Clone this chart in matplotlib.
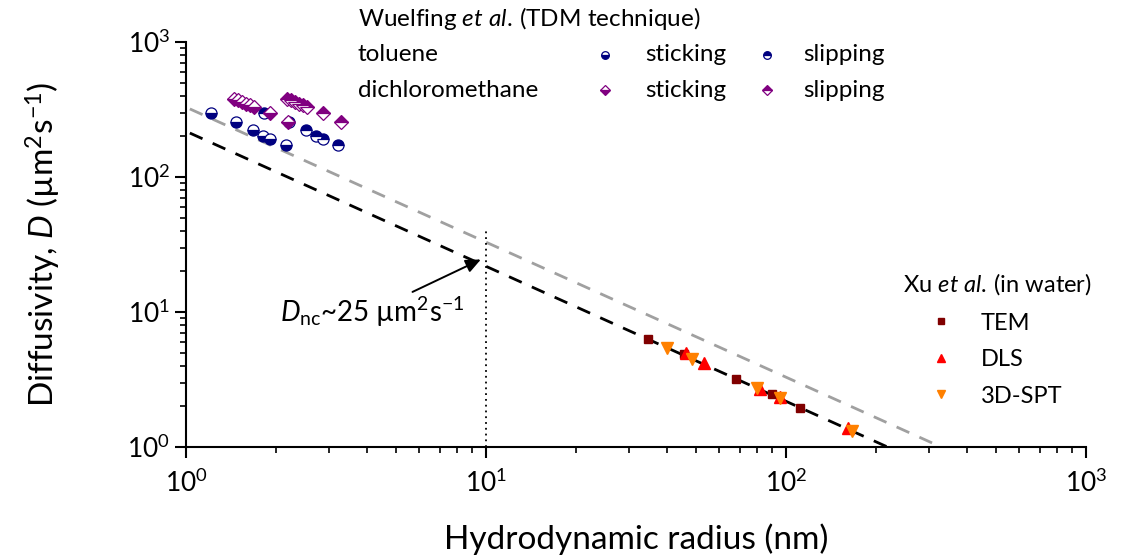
import matplotlib
matplotlib.use("Agg")
import matplotlib.pyplot as plt
import numpy as np

plt.rcParams['font.family'] = ['Lato', 'DejaVu Sans']
plt.rcParams['mathtext.fontset'] = 'custom'
plt.rcParams['mathtext.rm'] = 'Lato'
plt.rcParams['mathtext.it'] = 'Lato:italic'
plt.rcParams['mathtext.bf'] = 'Lato:bold'
plt.rcParams['mathtext.default'] = 'regular'

# ---- data ----
tol_stick_r = [1.21, 1.47, 1.67, 1.81, 1.90, 2.15]
tol_stick_D = [298, 255, 223, 201, 191, 173]
tol_slip_r = [1.82, 2.21, 2.51, 2.71, 2.86, 3.22]
tol_slip_D = [298, 255, 223, 201, 191, 173]

dcm_stick_r = [1.445, 1.49, 1.537, 1.585, 1.634, 1.686, 1.905, 2.19]
dcm_stick_D = [378, 369, 359, 350, 341, 330, 298, 255]
dcm_slip_r = [2.17, 2.24, 2.31, 2.38, 2.45, 2.53, 2.86, 3.28]
dcm_slip_D = [378, 369, 359, 350, 341, 330, 298, 255]

tem_r = [34.7, 45.7, 68.1, 89.6, 111.3]
tem_D = [6.31, 4.89, 3.19, 2.46, 1.95]
dls_r = [46.5, 53.3, 81.9, 95.5, 161.3]
dls_D = [4.95, 4.21, 2.68, 2.36, 1.38]
spt_r = [40.0, 48.5, 79.9, 95.5, 165.6]
spt_D = [5.38, 4.49, 2.72, 2.29, 1.31]

water_coef = 218.0     # D = coef / r  (Stokes-Einstein, water)
organic_coef = 329.0   # grey line
line_r = [1.03, 1000.0]
nc_r = 10.0
nc_D = 25.0
nc_top = 40.0

fig = plt.figure(figsize=(11.22, 5.6), dpi=100)
ax = fig.add_axes([186/1122, 1-447/560, 900/1122, 405/560])

ax.plot(line_r, [organic_coef/r for r in line_r], ls=(0, (5, 4)), color='#a0a0a0', lw=2, zorder=1)
ax.plot(line_r, [water_coef/r for r in line_r], ls=(0, (5, 4)), color='black', lw=2, zorder=1)
ax.plot([nc_r, nc_r], [1, nc_top], ls=(0, (1, 2.2)), color='black', lw=1.3, zorder=1)

navy = '#000080'
purple = '#800080'
ckw = dict(ls='none', marker='o', ms=8, mec=navy, mfc=navy, mfcalt='white', mew=0.9)
dkw = dict(ls='none', marker='D', ms=7.5, mec=purple, mfc=purple, mfcalt='white', mew=0.9)
ax.plot(tol_stick_r, tol_stick_D, fillstyle='bottom', **ckw)
ax.plot(tol_slip_r, tol_slip_D, fillstyle='top', **ckw)
ax.plot(dcm_stick_r, dcm_stick_D, fillstyle='bottom', **dkw)
ax.plot(dcm_slip_r, dcm_slip_D, fillstyle='top', **dkw)

h1, = ax.plot(tem_r, tem_D, ls='none', marker='s', ms=6, color='#800000', label='TEM')
h2, = ax.plot(dls_r, dls_D, ls='none', marker='^', ms=8, color='#ff0000', label='DLS')
h3, = ax.plot(spt_r, spt_D, ls='none', marker='v', ms=8, color='#ff8000', label='3D-SPT')

ax.set_xscale('log')
ax.set_yscale('log')
ax.set_xlim(1, 1000)
ax.set_ylim(1, 1000)
for s in ['top', 'right']:
    ax.spines[s].set_visible(False)
for s in ['left', 'bottom']:
    ax.spines[s].set_linewidth(1.5)
ax.tick_params(which='major', direction='out', length=8, width=1.5, labelsize=19)
ax.tick_params(which='minor', direction='out', length=4, width=1.2)
ax.tick_params(axis='x', pad=8)

ax.set_xlabel('Hydrodynamic radius (nm)', fontsize=24, labelpad=19)
ax.set_ylabel(r'Diffusivity, $\mathit{D}$ (µm$^{2}$s$^{-1}$)', fontsize=24, labelpad=46)

# annotation
ax.annotate('', xy=(9.8, nc_D), xytext=(5.58, 13.8),
            arrowprops=dict(arrowstyle='-|>,head_length=0.9,head_width=0.4', color='black', lw=1.4))
ax.text(2.06, 8.43, r'$\mathit{D}_{\mathrm{nc}}$~25 µm$^{2}$s$^{-1}$', fontsize=20, va='baseline', ha='left')

# Wuelfing legend (manual)
tf = ax.transAxes
fs = 17.5
ax.text(0.191, 1.059, r'$\mathrm{Wuelfing}\ \mathit{et\ al.}\,\mathrm{(TDM\ technique)}$',
        transform=tf, fontsize=fs, va='center')
ax.text(0.191, 0.968, 'toluene', transform=tf, fontsize=fs, va='center')
ax.text(0.191, 0.881, 'dichloromethane', transform=tf, fontsize=fs, va='center')
ax.text(0.51, 0.968, 'sticking', transform=tf, fontsize=fs, va='center')
ax.text(0.51, 0.881, 'sticking', transform=tf, fontsize=fs, va='center')
ax.text(0.6856, 0.968, 'slipping', transform=tf, fontsize=fs, va='center')
ax.text(0.6856, 0.881, 'slipping', transform=tf, fontsize=fs, va='center')
lckw = dict(ckw); lckw['ms'] = 5.5
ldkw = dict(dkw); ldkw['ms'] = 5.5
ax.plot([0.466], [0.968], transform=tf, clip_on=False, fillstyle='bottom', **lckw)
ax.plot([0.6456], [0.968], transform=tf, clip_on=False, fillstyle='top', **lckw)
ax.plot([0.466], [0.881], transform=tf, clip_on=False, fillstyle='bottom', **ldkw)
ax.plot([0.6456], [0.881], transform=tf, clip_on=False, fillstyle='top', **ldkw)

# Xu legend
leg = ax.legend(handles=[h1, h2, h3], title=r'$\mathrm{Xu}\ \mathit{et\ al.}\,\mathrm{(in\ water)}$',
                loc='upper right',
                bbox_to_anchor=(1.025, 0.475), frameon=False, fontsize=17, title_fontsize=17,
                markerscale=0.8, handlelength=3.2, handletextpad=0.1, labelspacing=0.66,
                borderpad=0.2)
leg._legend_box.align = 'left'

fig.savefig('out.png', dpi=100)
